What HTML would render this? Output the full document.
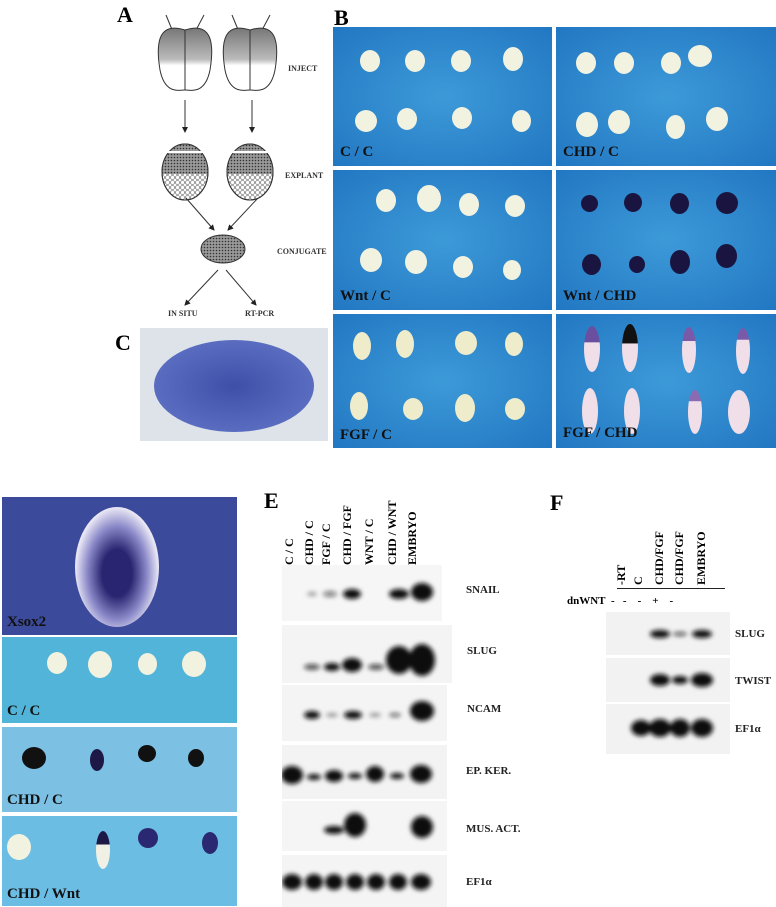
<!DOCTYPE html><html><head><meta charset="utf-8"><style>
body{margin:0;width:776px;height:907px;background:#fff;position:relative;overflow:hidden;font-family:"Liberation Serif",serif;font-weight:bold}
.a{position:absolute}
.bp{position:absolute;background:radial-gradient(ellipse at 50% 50%,#3d9ad8,#2277c2);overflow:hidden}
.wl{color:#111;font-size:15px}
.dot{position:absolute;border-radius:50%;background:#f2f2e0}
.gl{position:absolute;font-size:11px;color:#222}
.lane{position:absolute;font-size:12px;transform:rotate(-90deg);transform-origin:left bottom;white-space:nowrap;font-weight:bold}
</style></head><body>
<div class="a" style="left:117px;top:2px;font-size:22px">A</div>
<div class="a" style="left:334px;top:5px;font-size:22px">B</div>
<div class="a" style="left:115px;top:330px;font-size:22px">C</div>
<div class="a" style="left:264px;top:488px;font-size:22px">E</div>
<div class="a" style="left:550px;top:490px;font-size:22px">F</div>

<svg class="a" style="left:140px;top:0" width="195" height="325">
<defs><marker id="ar" markerWidth="6" markerHeight="6" refX="5" refY="3" orient="auto"><path d="M0,0L6,3L0,6z" fill="#222"/></marker>
<pattern id="hp" width="3" height="3" patternUnits="userSpaceOnUse"><rect width="3" height="3" fill="#999"/><circle cx="1.5" cy="1.5" r="0.8" fill="#333"/></pattern>
<pattern id="lp" width="5" height="5" patternUnits="userSpaceOnUse"><rect width="5" height="5" fill="#fff"/><circle cx="2.5" cy="2.5" r="2" fill="none" stroke="#555" stroke-width=".6"/></pattern>
<linearGradient id="eg" x1="0" y1="0" x2="0" y2="1"><stop offset="0" stop-color="#777"/><stop offset=".5" stop-color="#bbb"/><stop offset=".6" stop-color="#fff"/></linearGradient>
<clipPath id="c1"><ellipse cx="45" cy="172" rx="23" ry="28"/></clipPath><clipPath id="c2"><ellipse cx="110" cy="172" rx="23" ry="28"/></clipPath></defs>
<g stroke="#333" fill="none">
<line x1="26" y1="15" x2="33" y2="32"/><line x1="64" y1="15" x2="55" y2="32"/>
<line x1="92" y1="15" x2="99" y2="32"/><line x1="130" y1="15" x2="121" y2="32"/>
<path d="M45,30C20,22 15,40 20,70C25,95 40,90 45,90C50,90 65,95 70,70C75,40 70,22 45,30Z" fill="url(#eg)"/>
<path d="M110,30C85,22 80,40 85,70C90,95 105,90 110,90C115,90 130,95 135,70C140,40 135,22 110,30Z" fill="url(#eg)"/>
<line x1="45" y1="30" x2="45" y2="90"/><line x1="110" y1="30" x2="110" y2="90"/>
<line x1="45" y1="100" x2="45" y2="132" marker-end="url(#ar)"/><line x1="112" y1="100" x2="112" y2="132" marker-end="url(#ar)"/>
<ellipse cx="45" cy="172" rx="23" ry="28" fill="url(#lp)"/><rect x="20" y="140" width="50" height="34" fill="url(#hp)" clip-path="url(#c1)" stroke="none"/><ellipse cx="45" cy="172" rx="23" ry="28"/>
<ellipse cx="110" cy="172" rx="23" ry="28" fill="url(#lp)"/><rect x="85" y="140" width="50" height="34" fill="url(#hp)" clip-path="url(#c2)" stroke="none"/><ellipse cx="110" cy="172" rx="23" ry="28"/>
<line x1="22" y1="152" x2="68" y2="152" stroke="#fff" stroke-width="2"/><line x1="87" y1="152" x2="133" y2="152" stroke="#fff" stroke-width="2"/>
<line x1="46" y1="198" x2="74" y2="230" marker-end="url(#ar)"/><line x1="118" y1="198" x2="88" y2="230" marker-end="url(#ar)"/>
<ellipse cx="83" cy="249" rx="22" ry="14" fill="url(#hp)"/>
<line x1="78" y1="270" x2="45" y2="305" marker-end="url(#ar)"/><line x1="86" y1="270" x2="116" y2="305" marker-end="url(#ar)"/>
</g>
<g fill="#333" font-size="8" font-family="Liberation Serif" font-weight="bold">
<text x="148" y="71">INJECT</text><text x="145" y="178">EXPLANT</text><text x="137" y="254">CONJUGATE</text>
<text x="28" y="316">IN SITU</text><text x="105" y="316">RT-PCR</text></g>
</svg>

<div class="a" style="left:140px;top:328px;width:188px;height:113px;background:#dde3e8;overflow:hidden">
<div class="a" style="left:14px;top:12px;width:160px;height:92px;border-radius:50%;background:radial-gradient(ellipse,#3e4fa8,#5a6cc0 70%,#a8b2d8)"></div></div>

<div class="bp" style="left:333px;top:27px;width:219px;height:139px"><div class="dot" style="left:27px;top:23px;width:20px;height:22px"></div><div class="dot" style="left:72px;top:23px;width:20px;height:22px"></div><div class="dot" style="left:118px;top:23px;width:20px;height:22px"></div><div class="dot" style="left:170px;top:20px;width:20px;height:24px"></div><div class="dot" style="left:22px;top:83px;width:22px;height:22px"></div><div class="dot" style="left:64px;top:81px;width:20px;height:22px"></div><div class="dot" style="left:119px;top:80px;width:20px;height:22px"></div><div class="dot" style="left:179px;top:83px;width:19px;height:22px"></div><div class="a wl" style="left:7px;top:117px">C / C</div></div>
<div class="bp" style="left:556px;top:27px;width:220px;height:139px"><div class="dot" style="left:20px;top:25px;width:20px;height:22px"></div><div class="dot" style="left:58px;top:25px;width:20px;height:22px"></div><div class="dot" style="left:105px;top:25px;width:20px;height:22px"></div><div class="dot" style="left:132px;top:18px;width:24px;height:22px"></div><div class="dot" style="left:20px;top:85px;width:22px;height:25px"></div><div class="dot" style="left:52px;top:83px;width:22px;height:24px"></div><div class="dot" style="left:110px;top:88px;width:19px;height:24px"></div><div class="dot" style="left:150px;top:80px;width:22px;height:24px"></div><div class="a wl" style="left:7px;top:117px">CHD / C</div></div>
<div class="bp" style="left:333px;top:170px;width:219px;height:140px"><div class="dot" style="left:43px;top:19px;width:20px;height:23px"></div><div class="dot" style="left:84px;top:15px;width:24px;height:27px"></div><div class="dot" style="left:126px;top:23px;width:20px;height:23px"></div><div class="dot" style="left:172px;top:25px;width:20px;height:22px"></div><div class="dot" style="left:27px;top:78px;width:22px;height:24px"></div><div class="dot" style="left:72px;top:80px;width:22px;height:24px"></div><div class="dot" style="left:120px;top:86px;width:20px;height:22px"></div><div class="dot" style="left:170px;top:90px;width:18px;height:20px"></div><div class="a wl" style="left:7px;top:118px">Wnt / C</div></div>
<div class="bp" style="left:556px;top:170px;width:220px;height:140px"><div class="dot" style="left:25px;top:25px;width:17px;height:17px;background:#1a1540"></div><div class="dot" style="left:68px;top:23px;width:18px;height:19px;background:#1a1540"></div><div class="dot" style="left:114px;top:23px;width:19px;height:21px;background:#1a1540"></div><div class="dot" style="left:160px;top:22px;width:22px;height:22px;background:#1a1540"></div><div class="dot" style="left:26px;top:84px;width:19px;height:21px;background:#1a1540"></div><div class="dot" style="left:73px;top:86px;width:16px;height:17px;background:#1a1540"></div><div class="dot" style="left:114px;top:80px;width:20px;height:24px;background:#1a1540"></div><div class="dot" style="left:160px;top:74px;width:21px;height:24px;background:#1a1540"></div><div class="a wl" style="left:7px;top:118px">Wnt / CHD</div></div>
<div class="bp" style="left:333px;top:314px;width:219px;height:134px"><div class="dot" style="left:20px;top:18px;width:18px;height:28px;background:#efeccb"></div><div class="dot" style="left:63px;top:16px;width:18px;height:28px;background:#efeccb"></div><div class="dot" style="left:122px;top:17px;width:22px;height:24px;background:#efeccb"></div><div class="dot" style="left:172px;top:18px;width:18px;height:24px;background:#efeccb"></div><div class="dot" style="left:17px;top:78px;width:18px;height:28px;background:#efeccb"></div><div class="dot" style="left:70px;top:84px;width:20px;height:22px;background:#efeccb"></div><div class="dot" style="left:122px;top:80px;width:20px;height:28px;background:#efeccb"></div><div class="dot" style="left:172px;top:84px;width:20px;height:22px;background:#efeccb"></div><div class="a wl" style="left:7px;top:113px">FGF / C</div></div>
<div class="bp" style="left:556px;top:314px;width:220px;height:134px"><div class="dot" style="left:28px;top:12px;width:16px;height:46px;background:linear-gradient(#6a4fa0 35%,#f0dfe8 36%)"></div><div class="dot" style="left:66px;top:10px;width:16px;height:48px;background:linear-gradient(#111 40%,#f0dfe8 41%)"></div><div class="dot" style="left:126px;top:13px;width:14px;height:46px;background:linear-gradient(#7a5aa8 30%,#f0dfe8 31%)"></div><div class="dot" style="left:180px;top:14px;width:14px;height:46px;background:linear-gradient(#7a5aa8 25%,#f0dfe8 26%)"></div><div class="dot" style="left:26px;top:74px;width:16px;height:46px;background:#f0dfe8"></div><div class="dot" style="left:68px;top:74px;width:16px;height:46px;background:#f0dfe8"></div><div class="dot" style="left:132px;top:76px;width:14px;height:44px;background:linear-gradient(#8a6ab0 25%,#f0dfe8 26%)"></div><div class="dot" style="left:172px;top:76px;width:22px;height:44px;background:#f0dfe8"></div><div class="a wl" style="left:7px;top:111px">FGF / CHD</div></div>

<div class="a" style="left:2px;top:497px;width:235px;height:138px;background:#3b4a9a;overflow:hidden"><div class="a" style="left:73px;top:10px;width:84px;height:120px;border-radius:50%;background:radial-gradient(ellipse at 50% 55%,#2a2570 25%,#8a88c8 50%,#e8e6f4 70%)"></div><div class="a wl" style="left:5px;top:117px;color:#111">Xsox2</div></div>
<div class="a" style="left:2px;top:637px;width:235px;height:86px;background:#52b4d8;overflow:hidden"><div class="dot" style="left:45px;top:15px;width:20px;height:22px"></div><div class="dot" style="left:86px;top:14px;width:24px;height:27px"></div><div class="dot" style="left:136px;top:16px;width:19px;height:22px"></div><div class="dot" style="left:180px;top:14px;width:24px;height:26px"></div><div class="a wl" style="left:5px;top:66px">C / C</div></div>
<div class="a" style="left:2px;top:727px;width:235px;height:85px;background:#7cc0e4;overflow:hidden"><div class="dot" style="left:20px;top:20px;width:24px;height:22px;background:#111"></div><div class="dot" style="left:88px;top:22px;width:14px;height:22px;background:#1d1845"></div><div class="dot" style="left:136px;top:18px;width:18px;height:17px;background:#111"></div><div class="dot" style="left:186px;top:22px;width:16px;height:18px;background:#111"></div><div class="a wl" style="left:5px;top:65px">CHD / C</div></div>
<div class="a" style="left:2px;top:816px;width:235px;height:90px;background:#6cbde4;overflow:hidden"><div class="dot" style="left:5px;top:18px;width:24px;height:26px"></div><div class="dot" style="left:94px;top:15px;width:14px;height:38px;background:linear-gradient(#1d1845 35%,#f0f0e4 36%)"></div><div class="dot" style="left:136px;top:12px;width:20px;height:20px;background:#2a2870"></div><div class="dot" style="left:200px;top:16px;width:16px;height:22px;background:#2a2870"></div><div class="a wl" style="left:5px;top:70px">CHD / Wnt</div></div>

<div class="a" style="left:282px;top:505px;width:160px;height:60px">
<div class="lane" style="left:15px;top:45px">C / C</div><div class="lane" style="left:35px;top:45px">CHD / C</div><div class="lane" style="left:52px;top:45px">FGF / C</div><div class="lane" style="left:73px;top:45px">CHD / FGF</div><div class="lane" style="left:95px;top:45px">WNT / C</div><div class="lane" style="left:118px;top:45px">CHD / WNT</div><div class="lane" style="left:138px;top:45px">EMBRYO</div></div>

<svg class="a" style="left:282px;top:565px" width="175" height="342">
<defs><filter id="b" x="-50%" y="-100%" width="200%" height="300%"><feGaussianBlur stdDeviation="2.5"/></filter></defs>
<rect x="0" y="0" width="160" height="56" fill="#f6f6f6"/><rect x="0" y="60" width="170" height="58" fill="#f4f4f4"/><rect x="0" y="120" width="165" height="56" fill="#f4f4f4"/><rect x="0" y="180" width="165" height="54" fill="#f3f3f3"/><rect x="0" y="236" width="165" height="50" fill="#f5f5f5"/><rect x="0" y="290" width="165" height="52" fill="#f4f4f4"/>
<g fill="#111" filter="url(#b)">
<ellipse cx="30" cy="29" rx="5" ry="2" opacity=".4"/><ellipse cx="48" cy="29" rx="7" ry="3" opacity=".5"/><ellipse cx="70" cy="29" rx="9" ry="5"/><ellipse cx="117" cy="29" rx="10" ry="5"/><ellipse cx="140" cy="27" rx="11" ry="9"/>
<ellipse cx="30" cy="102" rx="8" ry="3" opacity=".7"/><ellipse cx="50" cy="102" rx="8" ry="4"/><ellipse cx="70" cy="100" rx="10" ry="7"/><ellipse cx="94" cy="102" rx="8" ry="3" opacity=".7"/><ellipse cx="117" cy="95" rx="13" ry="14"/><ellipse cx="140" cy="95" rx="13" ry="16"/>
<ellipse cx="30" cy="150" rx="8" ry="4"/><ellipse cx="50" cy="150" rx="6" ry="2" opacity=".4"/><ellipse cx="71" cy="150" rx="9" ry="4"/><ellipse cx="93" cy="150" rx="6" ry="2" opacity=".4"/><ellipse cx="113" cy="150" rx="6" ry="2" opacity=".6"/><ellipse cx="140" cy="146" rx="12" ry="10"/>
<ellipse cx="10" cy="210" rx="11" ry="9"/><ellipse cx="32" cy="212" rx="7" ry="3"/><ellipse cx="52" cy="211" rx="9" ry="6"/><ellipse cx="73" cy="211" rx="7" ry="3"/><ellipse cx="93" cy="209" rx="9" ry="8"/><ellipse cx="115" cy="211" rx="7" ry="3"/><ellipse cx="139" cy="209" rx="11" ry="9"/>
<ellipse cx="52" cy="265" rx="10" ry="4"/><ellipse cx="73" cy="260" rx="11" ry="12"/><ellipse cx="140" cy="262" rx="11" ry="11"/>
<ellipse cx="10" cy="317" rx="10" ry="8"/><ellipse cx="32" cy="317" rx="9" ry="8"/><ellipse cx="52" cy="317" rx="9" ry="8"/><ellipse cx="73" cy="317" rx="9" ry="8"/><ellipse cx="94" cy="317" rx="9" ry="8"/><ellipse cx="116" cy="317" rx="9" ry="8"/><ellipse cx="139" cy="317" rx="10" ry="8"/>
</g></svg>
<div class="gl" style="left:466px;top:584px">SNAIL</div><div class="gl" style="left:467px;top:645px">SLUG</div><div class="gl" style="left:467px;top:703px">NCAM</div><div class="gl" style="left:466px;top:765px">EP. KER.</div><div class="gl" style="left:466px;top:823px">MUS. ACT.</div><div class="gl" style="left:466px;top:876px">EF1α</div>

<div class="a" style="left:610px;top:525px;width:110px;height:60px">
<div class="lane" style="left:19px;top:45px">-RT</div><div class="lane" style="left:36px;top:45px">C</div><div class="lane" style="left:57px;top:45px">CHD/FGF</div><div class="lane" style="left:77px;top:45px">CHD/FGF</div><div class="lane" style="left:99px;top:45px">EMBRYO</div></div>
<div class="a" style="left:617px;top:588px;width:108px;height:1px;background:#222"></div>
<div class="a" style="left:567px;top:595px;font-size:11px">dnWNT&nbsp; -&nbsp;&nbsp; -&nbsp;&nbsp;&nbsp; -&nbsp;&nbsp;&nbsp; +&nbsp;&nbsp;&nbsp; -</div>
<svg class="a" style="left:606px;top:612px" width="125" height="145">
<defs><filter id="b2" x="-50%" y="-100%" width="200%" height="300%"><feGaussianBlur stdDeviation="2.5"/></filter></defs>
<rect x="0" y="0" width="124" height="43" fill="#f2f2f2"/><rect x="0" y="46" width="124" height="44" fill="#f2f2f2"/><rect x="0" y="92" width="124" height="50" fill="#f2f2f2"/>
<g fill="#111" filter="url(#b2)"><ellipse cx="54" cy="22" rx="10" ry="4"/><ellipse cx="74" cy="22" rx="7" ry="2" opacity=".7"/><ellipse cx="96" cy="22" rx="10" ry="4"/>
<ellipse cx="54" cy="68" rx="10" ry="6"/><ellipse cx="74" cy="68" rx="8" ry="4"/><ellipse cx="96" cy="68" rx="11" ry="7"/>
<ellipse cx="35" cy="116" rx="10" ry="8"/><ellipse cx="54" cy="116" rx="11" ry="9"/><ellipse cx="74" cy="116" rx="10" ry="9"/><ellipse cx="96" cy="116" rx="11" ry="9"/></g></svg>
<div class="gl" style="left:735px;top:628px">SLUG</div><div class="gl" style="left:735px;top:675px">TWIST</div><div class="gl" style="left:735px;top:723px">EF1α</div>
</body></html>
